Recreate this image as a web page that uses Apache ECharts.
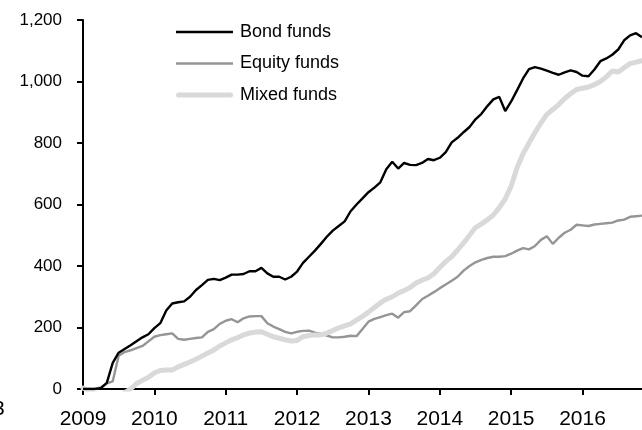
<!DOCTYPE html>
<html>
<head>
<meta charset="utf-8">
<script src="https://cdn.jsdelivr.net/npm/echarts@6/dist/echarts.min.js"></script>
<style>
html,body{margin:0;padding:0;background:#fff;}
#chart{width:642px;height:430px;}
</style>
</head>
<body>
<div id="chart"></div>
<script>
// Monthly observations, Jan 2009 .. Nov 2016
const startYear = 2009;
const monthCount = 95;
const months = [];
for (let i = 0; i < monthCount; i++) {
  const y = startYear + Math.floor(i / 12);
  const m = (i % 12) + 1;
  months.push(y + '-' + (m < 10 ? '0' + m : m));
}

const seriesNames = ['Bond funds', 'Equity funds', 'Mixed funds'];

const bondFunds = [
  0, 0, 0, 3, 20, 85, 118, 130, 142, 155, 168, 178,
  198, 214, 255, 278, 282, 285, 300, 322, 338, 355, 358, 354,
  362, 372, 372, 374, 383, 383, 394, 376, 365, 365, 356, 365,
  382, 410, 430, 450, 472, 495, 515, 530, 545, 578, 600, 620,
  640, 655, 672, 715, 739, 717, 735, 729, 728, 735, 748, 744,
  752, 770, 802, 817, 835, 852, 877, 895, 920, 942, 950, 904,
  935, 972, 1010, 1040, 1047, 1042, 1035, 1028, 1022, 1030, 1036, 1031,
  1019, 1017, 1039, 1066, 1075, 1087, 1104, 1134, 1150, 1157, 1144
];

const equityFunds = [
  0, 0, 0, 5, 18, 25, 108, 120, 126, 133, 140, 155,
  170, 175, 178, 181, 163, 160, 163, 166, 168, 186, 195, 212,
  222, 227, 217, 230, 236, 237, 237, 214, 203, 195, 186, 181,
  186, 189, 190, 183, 179, 174, 168, 168, 170, 173, 172, 195,
  219, 228, 234, 240, 245, 232, 250, 253, 272, 292, 303, 315,
  328, 340, 352, 365, 385, 400, 412, 420, 426, 430, 430, 432,
  440, 450, 458, 454, 465, 485, 497, 472, 492, 508, 518, 534,
  532, 530, 535, 537, 539, 541, 548, 551, 560, 562, 564
];

const mixedFunds = [
  3, -5, -15, -25, -30, -30, -25, -12, 0, 18, 28, 38,
  52, 60, 62, 62, 72, 80, 88, 97, 107, 117, 127, 140,
  150, 160, 167, 176, 182, 185, 186, 178, 170, 165, 160, 156,
  158, 170, 174, 176, 176, 182, 190, 199, 205, 212, 224, 236,
  250, 265, 280, 292, 300, 312, 320, 330, 345, 354, 361, 375,
  395, 415, 430, 452, 475, 500, 525, 537, 550, 566, 590, 618,
  660, 720, 765, 800, 834, 865, 893, 909, 925, 945, 960, 974,
  978, 982, 990, 1000, 1015, 1034, 1031, 1045, 1058, 1063, 1068
];

const yTicks = [0, 200, 400, 600, 800, 1000, 1200];

const NARROW = "'Liberation Sans Narrow', 'Arial Narrow', sans-serif";
const SANS = "'Liberation Sans', Arial, sans-serif";

const chart = echarts.init(document.getElementById('chart'), null, {renderer: 'canvas'});

const option = {
  animation: false,
  backgroundColor: '#ffffff',
  grid: {left: 83, top: 20, width: 561, height: 371, containLabel: false},
  legend: {
    orient: 'vertical',
    left: 171,
    top: 18,
    padding: 5,
    itemWidth: 57,
    itemHeight: 20,
    itemGap: 13.5,
    symbolKeepAspect: true,
    data: [
      {name: seriesNames[0], icon: 'path://M0,0h57v2.4h-57z'},
      {name: seriesNames[1], icon: 'path://M0,0h57v2.4h-57z'},
      {name: seriesNames[2], icon: 'path://M2.5,0h52a2.5,2.5 0 0 1 0,5h-52a2.5,2.5 0 0 1 0,-5z'}
    ],
    textStyle: {fontFamily: SANS, fontSize: 18, color: '#000', padding: [0, 0, 0, 2]}
  },
  xAxis: {
    type: 'category',
    data: months,
    boundaryGap: false,
    axisLine: {lineStyle: {color: '#000', width: 2}},
    axisTick: {
      show: true,
      length: 6,
      lineStyle: {color: '#000', width: 2},
      interval: function (idx) { return idx % 12 === 0; }
    },
    axisLabel: {
      interval: function (idx) { return idx % 12 === 0; },
      formatter: function (v) { return v.slice(0, 4); },
      margin: 20,
      fontFamily: NARROW,
      fontSize: 21,
      color: '#000'
    },
    splitLine: {show: false}
  },
  yAxis: {
    type: 'value',
    min: yTicks[0],
    max: yTicks[yTicks.length - 1],
    interval: 200,
    axisLine: {show: true, lineStyle: {color: '#000', width: 2}},
    axisTick: {show: true, length: 6, lineStyle: {color: '#000', width: 2}},
    axisLabel: {
      formatter: function (v) { return Number(v).toLocaleString('en-US'); },
      margin: 21,
      fontFamily: SANS,
      fontSize: 17,
      color: '#000'
    },
    splitLine: {show: false}
  },
  series: [
    {
      name: seriesNames[0],
      type: 'line',
      data: bondFunds,
      showSymbol: false,
      symbol: 'none',
      lineStyle: {color: '#000000', width: 2.4},
      itemStyle: {color: '#000000'},
      z: 4
    },
    {
      name: seriesNames[1],
      type: 'line',
      data: equityFunds,
      showSymbol: false,
      symbol: 'none',
      lineStyle: {color: '#959595', width: 2.4},
      itemStyle: {color: '#959595'},
      z: 2
    },
    {
      name: seriesNames[2],
      type: 'line',
      data: mixedFunds,
      showSymbol: false,
      symbol: 'none',
      clip: true,
      lineStyle: {color: '#d9d9d9', width: 5, cap: 'round'},
      itemStyle: {color: '#d9d9d9'},
      z: 3
    }
  ],
  graphic: [
    {
      type: 'text',
      left: -7,
      top: 399,
      style: {text: '3', font: "21px 'Liberation Sans Narrow', sans-serif", fill: '#000'}
    }
  ]
};

chart.setOption(option);
</script>
</body>
</html>
